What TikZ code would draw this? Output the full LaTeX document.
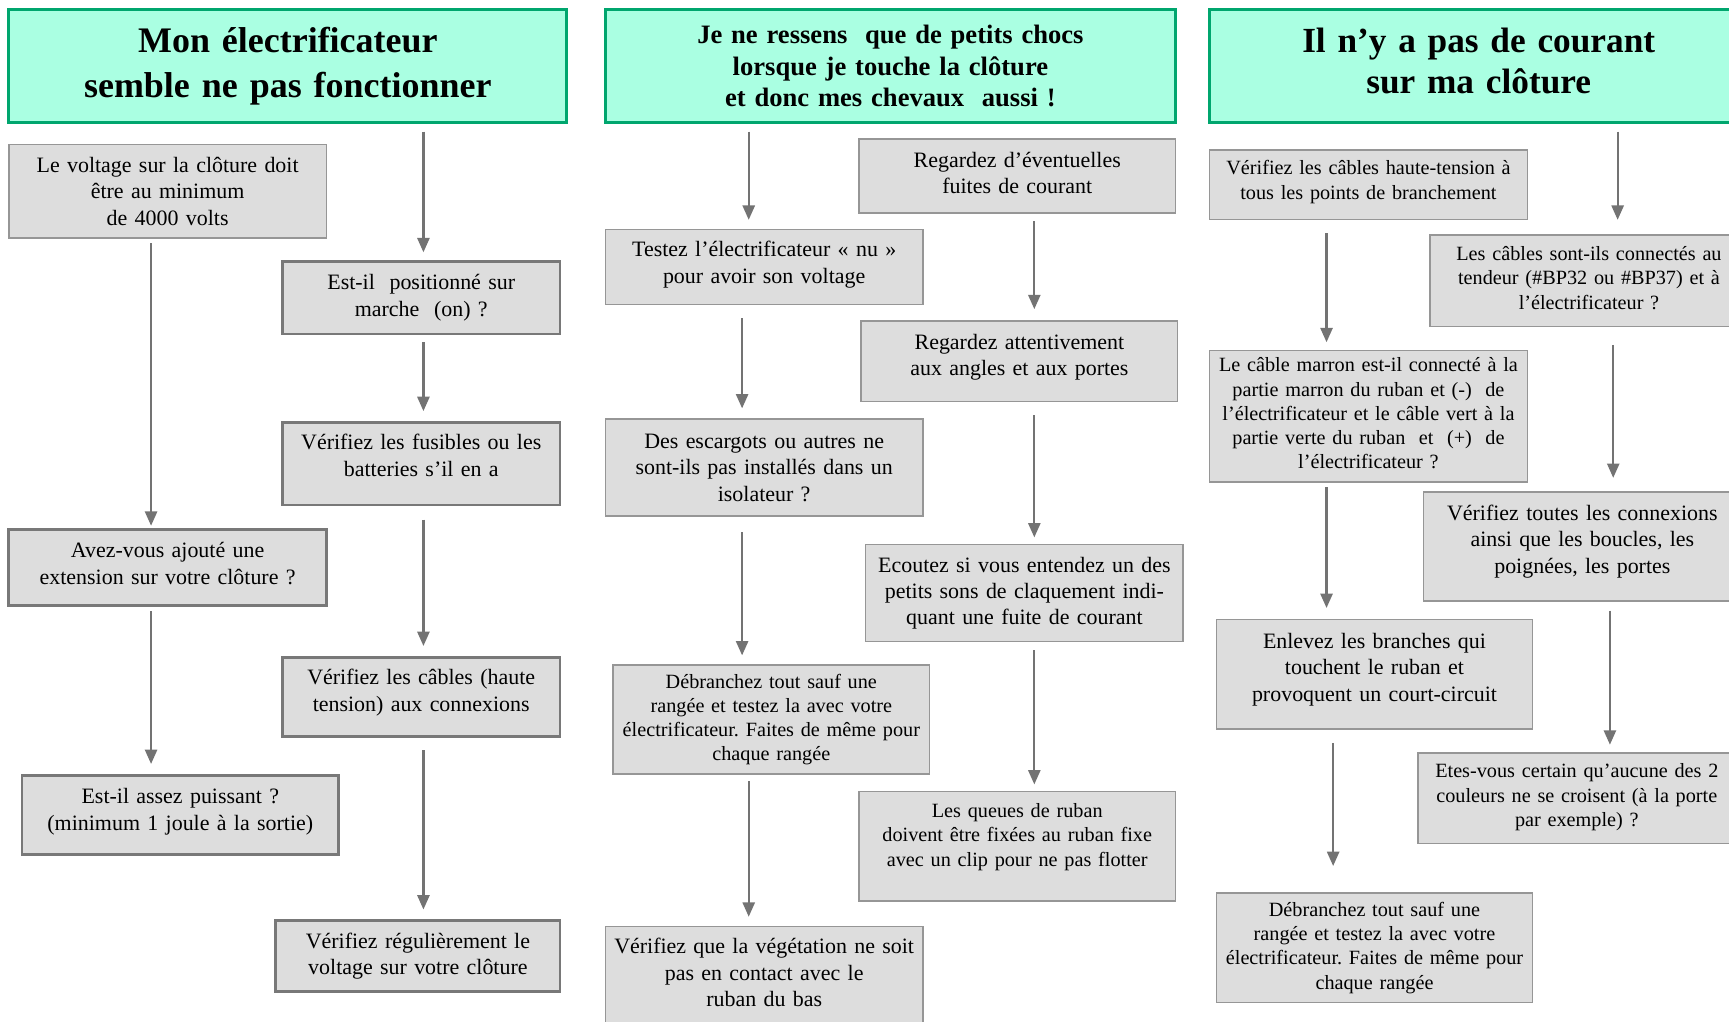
\documentclass[tikz,border=0pt]{standalone}
\usepackage{fontspec}
\setmainfont{Liberation Serif}
\usepackage{tikz}
\usetikzlibrary{arrows.meta}

\definecolor{titlefill}{RGB}{170,255,226}
\definecolor{titleline}{RGB}{0,166,110}
\definecolor{boxfill}{RGB}{221,221,221}
\definecolor{boxline}{RGB}{150,150,150}
\definecolor{boxdark}{RGB}{120,120,120}
\definecolor{arrowgray}{RGB}{115,115,115}

\newcommand{\bigtxt}{\fontsize{19.9}{24}\selectfont}
\newcommand{\smalltxt}{\fontsize{18.35}{22}\selectfont}

\begin{document}
\frenchspacing
\begin{tikzpicture}[
    x=1pt, y=-1pt,
    titlebox/.style={draw=titleline, fill=titlefill, line width=2.6pt, align=center, inner xsep=5pt, inner ysep=2pt},
    stepbox/.style={draw=boxline, fill=boxfill, line width=1.3pt, align=center, inner xsep=5pt, inner ysep=2pt, font=\bigtxt},
    heavy/.style={draw=boxdark, line width=2.4pt},
    smalltext/.style={font=\smalltxt},
    lift/.style={execute at end node={\endgraf\vspace*{#1pt}}},
    flow/.style={draw=arrowgray, line width=2pt, -{Triangle[length=13pt,width=11pt]}}
  ]
  \useasboundingbox (0,0) rectangle (1568,926);

  %==================== COLUMN 1 ====================
  \node[titlebox, text width=496pt, minimum height=102pt,
        font={\bfseries\fontsize{32.6}{40}\selectfont}] (t1) at (261,60)
        {Mon électrificateur\\semble ne pas fonctionner};

  \node[stepbox, text width=278pt, minimum height=85pt] (b1) at (152,173.5)
        {Le voltage sur la clôture doit\\être au minimum\\de 4000 volts};
  \node[stepbox, heavy, text width=278pt, minimum height=69pt, lift=7] (b2) at (152,514.5)
        {Avez-vous ajouté une\\extension sur votre clôture ?};
  \node[stepbox, heavy, text width=277pt, minimum height=72pt, lift=6] (b3) at (163.5,739)
        {Est-il assez puissant ?\\(minimum 1 joule à la sortie)};

  \node[stepbox, heavy, text width=242pt, minimum height=66pt] (b4) at (382,270)
        {Est-il\ \ positionné sur\\marche\ \ (on) ?};
  \node[stepbox, heavy, text width=242pt, minimum height=75pt, lift=15] (b5) at (382,420.5)
        {Vérifiez les fusibles ou les\\batteries s’il en a};
  \node[stepbox, heavy, text width=242pt, minimum height=72pt, lift=8] (b6) at (382,632)
        {Vérifiez les câbles (haute\\tension) aux connexions};
  \node[stepbox, heavy, text width=248pt, minimum height=64pt] (b7) at (379,867)
        {Vérifiez régulièrement le\\voltage sur votre clôture};

  %==================== COLUMN 2 ====================
  \node[titlebox, text width=507pt, minimum height=102pt,
        font={\bfseries\fontsize{24.1}{28.5}\selectfont}] (t2) at (807.5,60)
        {Je ne ressens\ \ que de petits chocs\\lorsque je touche la clôture\\et donc mes chevaux\ \ aussi !};

  \node[stepbox, text width=278pt, minimum height=68pt, lift=4] (c1) at (693,242)
        {Testez l’électrificateur «~nu~»\\pour avoir son voltage};
  \node[stepbox, text width=278pt, minimum height=88pt] (c2) at (693,424)
        {Des escargots ou autres ne\\sont-ils pas installés dans un\\isolateur ?};
  \node[stepbox, smalltext, text width=277pt, minimum height=99pt] (c3) at (699.5,652.5)
        {Débranchez tout sauf une\\rangée et testez la avec votre\\électrificateur. Faites de même pour\\chaque rangée};
  \node[stepbox, text width=278pt, minimum height=94pt, lift=10] (c4) at (693,887)
        {Vérifiez que la végétation ne soit\\pas en contact avec le\\ruban du bas};

  \node[stepbox, text width=277pt, minimum height=67pt, lift=5] (c5) at (922.5,159.5)
        {Regardez d’éventuelles\\fuites de courant};
  \node[stepbox, text width=277pt, minimum height=73pt, lift=7] (c6) at (924.5,327.5)
        {Regardez attentivement\\aux angles et aux portes};
  \node[stepbox, text width=278pt, minimum height=88pt] (c7) at (929,538)
        {Ecoutez si vous entendez un des\\petits sons de claquement indi-\\quant une fuite de courant};
  \node[stepbox, smalltext, text width=277pt, minimum height=99pt, lift=17] (c8) at (922.5,767.5)
        {Les queues de ruban\\doivent être fixées au ruban fixe\\avec un clip pour ne pas flotter};

  %==================== COLUMN 3 ====================
  \node[titlebox, text width=478pt, minimum height=102pt, lift=9,
        font={\bfseries\fontsize{32}{37}\selectfont}] (t3) at (1341,60)
        {Il n’y a pas de courant\\sur ma clôture};

  \node[stepbox, smalltext, text width=278pt, minimum height=63pt, lift=5] (d1) at (1241,167.5)
        {Vérifiez les câbles haute-tension à\\tous les points de branchement};
  \node[stepbox, smalltext, text width=278pt, minimum height=119pt, lift=5] (d2) at (1241,377.5)
        {Le câble marron est-il connecté à la\\partie marron du ruban et (-)\ \ de\\l’électrificateur et le câble vert à la\\partie verte du ruban\ \ et\ \ (+)\ \ de\\l’électrificateur ?};
  \node[stepbox, text width=277pt, minimum height=99pt, lift=9] (d3) at (1246.5,611.5)
        {Enlevez les branches qui\\touchent le ruban et\\provoquent un court-circuit};
  \node[stepbox, smalltext, text width=277pt, minimum height=99pt] (d4) at (1246.5,859.5)
        {Débranchez tout sauf une\\rangée et testez la avec votre\\électrificateur. Faites de même pour\\chaque rangée};

  \node[stepbox, smalltext, text width=278pt, minimum height=83pt, lift=5] (d5) at (1441,254.5)
        {Les câbles sont-ils connectés au\\tendeur (\#BP32 ou \#BP37) et à\\l’électrificateur ?};
  \node[stepbox, text width=278pt, minimum height=99pt, lift=9] (d6) at (1435,495.5)
        {Vérifiez toutes les connexions\\ainsi que les boucles, les\\poignées, les portes};
  \node[stepbox, smalltext, text width=278pt, minimum height=82pt, lift=2] (d7) at (1430,724)
        {Etes-vous certain qu’aucune des 2\\couleurs ne se croisent (à la porte\\par exemple) ?};

  % arrows: from / x offset / gap / to / x offset / gap
  \foreach \src/\sx/\sg/\dst/\ex/\eg in {
      t1/123/7/b4/2/7,
      b1/-15/4/b2/-15/2,
      b2/-15/4/b3/-26.5/9,
      b4/2/6/b5/2/9,
      b5/2/12/b6/2/9,
      b6/2/11/b7/5/9,
      t2/-128.5/7/c1/-14/8,
      c1/-20/12/c2/-20/9,
      c2/-20/14/c3/-26.5/8,
      c3/-20.5/6/c4/-14/8,
      c5/15.5/7/c6/13.5/10,
      c6/13.5/12/c7/9/6,
      c7/9/7/c8/15.5/6,
      d1/-38/12/d2/-38/7,
      d2/-38/4/d3/-43.5/10,
      d3/-37.5/12/d4/-37.5/24,
      t3/126/7/d5/26/13,
      d5/22/16/d6/28/12,
      d6/25/8/d7/30/7
    } {
      \draw[flow] ([xshift=\sx, yshift=-\sg]\src.south) -- ([xshift=\ex, yshift=\eg]\dst.north);
    }

\end{tikzpicture}
\end{document}
